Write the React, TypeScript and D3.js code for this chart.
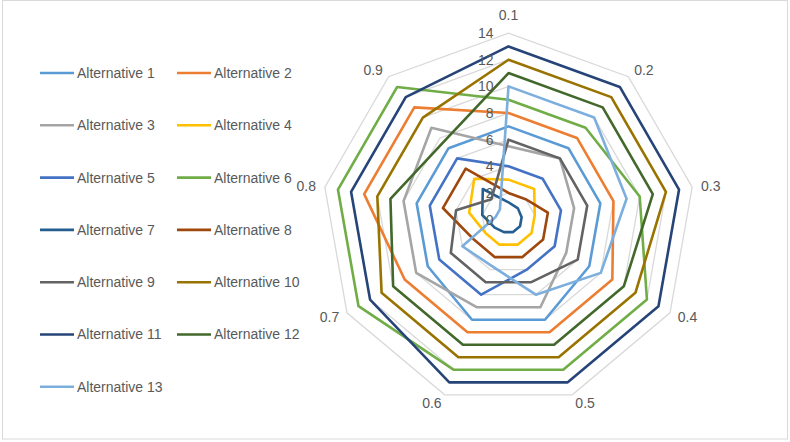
import React from "react";
import * as d3 from "d3";

const categories = ["0.1", "0.2", "0.3", "0.4", "0.5", "0.6", "0.7", "0.8", "0.9"];
const tickValues = [0, 2, 4, 6, 8, 10, 12, 14];

const alt1 = [7, 7, 7, 7, 8, 8, 7, 7, 7];
const alt2 = [8, 8, 8, 9, 9, 9, 9, 11, 11];
const alt3 = [5.5, 6, 5, 5, 7, 7, 8, 8, 9];
const alt4 = [3, 3, 2, 2, 2, 2, 2, 3, 4];
const alt5 = [4, 4, 4, 4, 4, 6, 6, 6, 6];
const alt6 = [9, 9, 10, 12, 12, 12, 13, 13, 13];
const alt7 = [1.3, 1.1, 1, 1, 1, 1, 1.2, 2, 3];
const alt8 = [2, 2, 3, 3, 3, 3, 3, 5, 5];
const alt9 = [6, 6, 6, 6, 5, 5, 5, 4, 2];
const alt10 = [12, 12, 12, 11, 11, 11, 11, 10, 10];
const alt11 = [13, 13, 13, 13, 13, 13, 12, 12, 12];
const alt12 = [11, 11, 11, 10, 10, 10, 10, 9, 7.6];
const alt13 = [10, 10, 9, 8, 6, 3.7, 4, 1, 1];

const seriesNames = [
  "Alternative 1", "Alternative 2", "Alternative 3", "Alternative 4", "Alternative 5",
  "Alternative 6", "Alternative 7", "Alternative 8", "Alternative 9", "Alternative 10",
  "Alternative 11", "Alternative 12", "Alternative 13",
];
const seriesValues = [alt1, alt2, alt3, alt4, alt5, alt6, alt7, alt8, alt9, alt10, alt11, alt12, alt13];
const seriesColors = [
  "#5B9BD5", "#ED7D31", "#A5A5A5", "#FFC000", "#4472C4", "#70AD47", "#255E91",
  "#9E480E", "#636363", "#997300", "#264478", "#43682B", "#7CAFDD",
];

const W = 790;
const H = 442;
const cx = 508.5;
const cy = 219.6;
const R = 186.5;
const FONT = "'Liberation Sans', Arial, sans-serif";
const TXT = "#595959";

export default function App() {
  const r = d3.scaleLinear().domain([0, 14]).range([0, R]);
  const n = categories.length;
  const angle = (i: number) => (i * 2 * Math.PI) / n;

  const line = d3
    .lineRadial<number>()
    .angle((_, i) => angle(i))
    .radius((d) => r(d))
    .curve(d3.curveLinearClosed);

  const legendRowY = (k: number) => 73 + k * 52.3;

  return (
    <svg
      width={W}
      height={H}
      style={{ position: "absolute", left: 0, top: 0, fontFamily: FONT }}
    >
      <rect x={0} y={0} width={W} height={H} fill="#fff" />
      <rect x={2.5} y={0.5} width={785} height={438.5} fill="none" stroke="#D9D9D9" strokeWidth={1} />
      <g transform={`translate(${cx},${cy})`}>
        {tickValues.map((t) => (
          <path
            key={t}
            d={line(categories.map(() => t)) || ""}
            fill="none"
            stroke="#D9D9D9"
            strokeWidth={1.3}
          />
        ))}
        {seriesValues.map((vals, si) => (
          <path
            key={si}
            d={line(vals) || ""}
            fill="none"
            stroke={seriesColors[si]}
            strokeWidth={2.6}
            strokeLinejoin="round"
          />
        ))}
        {tickValues.map((t) => (
          <text
            key={t}
            x={-15}
            y={-r(t)}
            dy="0.35em"
            textAnchor="end"
            fontSize={14}
            fill={TXT}
          >
            {t}
          </text>
        ))}
        {categories.map((c, i) => {
          const a = angle(i);
          const s = Math.sin(a);
          const co = Math.cos(a);
          const rr = R + 9;
          const x = rr * s;
          let y = -rr * co;
          let anchor: "start" | "middle" | "end" = "middle";
          if (Math.abs(s) < 0.1) {
            anchor = "middle";
            y = -R - 18;
          } else if (s > 0) anchor = "start";
          else anchor = "end";
          return (
            <text key={c} x={x} y={y} dy="0.35em" textAnchor={anchor} fontSize={14} fill={TXT}>
              {c}
            </text>
          );
        })}
      </g>
      {seriesNames.map((name, si) => {
        const col = si % 2;
        const row = Math.floor(si / 2);
        const lx = col === 0 ? 40 : 177;
        const y = legendRowY(row);
        return (
          <g key={name}>
            <line x1={lx} x2={lx + 34} y1={y} y2={y} stroke={seriesColors[si]} strokeWidth={2.6} />
            <text x={lx + 37} y={y} dy="0.35em" fontSize={14} fill={TXT}>
              {name}
            </text>
          </g>
        );
      })}
    </svg>
  );
}
